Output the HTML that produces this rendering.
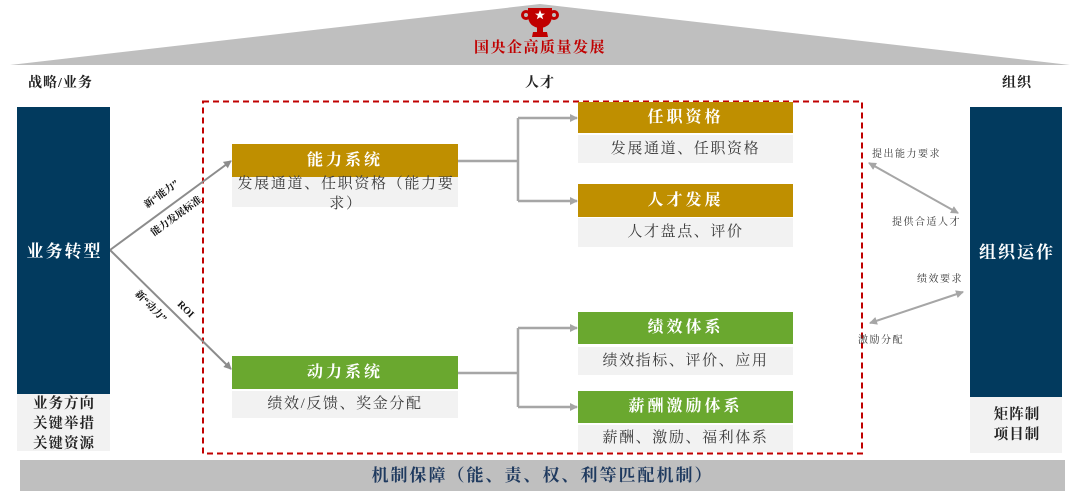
<!DOCTYPE html>
<html><head><meta charset="utf-8">
<style>
html,body{margin:0;padding:0;background:#fff;}
body{width:1080px;height:501px;position:relative;overflow:hidden;font-family:"Liberation Serif","Noto Serif CJK SC",serif;}
.abs{position:absolute;}
.navy{background:#023a5e;}
.gold{background:#bf8f00;color:#fff;font-weight:bold;font-size:16px;letter-spacing:3px;text-align:center;}
.green{background:#6aa82f;color:#fff;font-weight:bold;font-size:16px;letter-spacing:3px;text-align:center;}
.desc{background:#f2f2f2;color:#3a3a3a;font-size:15px;letter-spacing:1.6px;text-align:center;}
.lbl{font-weight:bold;color:#222;font-size:14px;letter-spacing:1px;}
.sm{font-size:10px;color:#333;letter-spacing:1.5px;white-space:nowrap;}
.rot{font-size:10px;font-weight:bold;color:#111;white-space:nowrap;transform-origin:center center;}
</style></head>
<body>
<svg class="abs" style="left:0;top:0" width="1080" height="501" viewBox="0 0 1080 501">
  <defs>
    <marker id="ag" markerWidth="8" markerHeight="8" refX="7" refY="4" orient="auto" markerUnits="userSpaceOnUse">
      <path d="M0,0 L8,4 L0,8 z" fill="#8c8c8c"/>
    </marker>
    <marker id="al" markerWidth="8" markerHeight="8" refX="7" refY="4" orient="auto" markerUnits="userSpaceOnUse">
      <path d="M0,0 L8,4 L0,8 z" fill="#a6a6a6"/>
    </marker>
    <marker id="ar" markerWidth="8" markerHeight="8" refX="7" refY="4" orient="auto-start-reverse" markerUnits="userSpaceOnUse">
      <path d="M0,0 L8,4 L0,8 z" fill="#a6a6a6"/>
    </marker>
  </defs>
  <polygon points="10,65 540,4 1070,65" fill="#bfbfbf"/>
  <g fill="#c00000">
    <circle cx="526" cy="15" r="3.5" fill="none" stroke="#c00000" stroke-width="3"/>
    <circle cx="554" cy="15" r="3.5" fill="none" stroke="#c00000" stroke-width="3"/>
    <path d="M528,8 L552,8 L552,15 Q552,27 540,28 Q528,27 528,15 Z"/>
    <rect x="537" y="27" width="6" height="5"/>
    <path d="M533,32 L547,32 L548,37 L532,37 Z"/>
    <polygon fill="#fff" points="540,10 541.4,13.6 545,13.6 542.1,15.8 543.2,19.3 540,17.2 536.8,19.3 537.9,15.8 535,13.6 538.6,13.6"/>
  </g>
  <rect x="203" y="101.5" width="659" height="352" fill="none" stroke="#c00000" stroke-width="2" stroke-dasharray="6,4"/>
  <rect x="20" y="460" width="1045" height="31" fill="#bfbfbf"/>
  <line x1="110" y1="250" x2="231" y2="161" stroke="#8c8c8c" stroke-width="2" marker-end="url(#ag)"/>
  <line x1="110" y1="250" x2="231" y2="369" stroke="#8c8c8c" stroke-width="2" marker-end="url(#ag)"/>
  <g stroke="#a6a6a6" stroke-width="2.5" fill="none">
    <line x1="458" y1="161" x2="518" y2="161"/>
    <line x1="518" y1="118" x2="518" y2="201"/>
    <line x1="518" y1="118" x2="577" y2="118" marker-end="url(#al)"/>
    <line x1="518" y1="201" x2="577" y2="201" marker-end="url(#al)"/>
    <line x1="458" y1="373" x2="518" y2="373"/>
    <line x1="518" y1="328" x2="518" y2="407"/>
    <line x1="518" y1="328" x2="577" y2="328" marker-end="url(#al)"/>
    <line x1="518" y1="407" x2="577" y2="407" marker-end="url(#al)"/>
  </g>
  <line x1="869" y1="163" x2="958" y2="213" stroke="#a6a6a6" stroke-width="2" marker-start="url(#ar)" marker-end="url(#ar)"/>
  <line x1="963" y1="292" x2="870" y2="323" stroke="#a6a6a6" stroke-width="2" marker-start="url(#ar)" marker-end="url(#ar)"/>
</svg>

<div class="abs" style="left:440px;top:38px;width:200px;text-align:center;color:#c00000;font-weight:bold;font-size:15px;letter-spacing:1.5px;line-height:20px;">国央企高质量发展</div>

<div class="abs lbl" style="left:28px;top:75px;line-height:18px;">战略/业务</div>
<div class="abs lbl" style="left:500px;top:75px;width:80px;text-align:center;line-height:18px;">人才</div>
<div class="abs lbl" style="left:1002px;top:75px;line-height:18px;">组织</div>

<div class="abs navy" style="left:17px;top:107px;width:93px;height:287px;"></div>
<div class="abs" style="left:17px;top:242px;width:95px;text-align:center;color:#fff;font-weight:bold;font-size:17px;letter-spacing:2px;line-height:20px;">业务转型</div>
<div class="abs" style="left:17px;top:394px;width:93px;height:57px;background:#f2f2f2;"></div>
<div class="abs lbl" style="left:17px;top:394px;width:94px;text-align:center;font-size:14.5px;line-height:20px;">业务方向<br>关键举措<br>关键资源</div>

<div class="abs navy" style="left:970px;top:107px;width:92px;height:290px;"></div>
<div class="abs" style="left:970px;top:243px;width:94px;text-align:center;color:#fff;font-weight:bold;font-size:17px;letter-spacing:2px;line-height:20px;">组织运作</div>
<div class="abs" style="left:970px;top:397px;width:92px;height:56px;background:#f2f2f2;"></div>
<div class="abs lbl" style="left:970px;top:405px;width:94px;text-align:center;font-size:14.5px;line-height:20px;">矩阵制<br>项目制</div>

<div class="abs gold" style="left:232px;top:144px;width:226px;height:33px;line-height:33px;">能力系统</div>
<div class="abs desc" style="left:232px;top:177px;width:226px;height:30px;"></div>
<div class="abs desc" style="left:230px;top:174px;width:232px;line-height:20px;background:transparent;letter-spacing:1.7px;">发展通道、任职资格（能力要<br>求）</div>

<div class="abs green" style="left:232px;top:356px;width:226px;height:33px;line-height:33px;">动力系统</div>
<div class="abs desc" style="left:232px;top:391px;width:226px;height:27px;line-height:27px;">绩效/反馈、奖金分配</div>

<div class="abs gold" style="left:578px;top:102px;width:215px;height:31px;line-height:31px;">任职资格</div>
<div class="abs desc" style="left:578px;top:135px;width:215px;height:28px;line-height:28px;">发展通道、任职资格</div>
<div class="abs gold" style="left:578px;top:184px;width:215px;height:33px;line-height:33px;">人才发展</div>
<div class="abs desc" style="left:578px;top:218px;width:215px;height:29px;line-height:29px;">人才盘点、评价</div>

<div class="abs green" style="left:578px;top:312px;width:215px;height:32px;line-height:32px;">绩效体系</div>
<div class="abs desc" style="left:578px;top:347px;width:215px;height:28px;line-height:28px;">绩效指标、评价、应用</div>
<div class="abs green" style="left:578px;top:391px;width:215px;height:32px;line-height:32px;">薪酬激励体系</div>
<div class="abs desc" style="left:578px;top:425px;width:215px;height:27px;line-height:27px;">薪酬、激励、福利体系</div>

<div class="abs rot" style="left:122px;top:189px;width:80px;text-align:center;line-height:12px;transform:rotate(-36deg);">新“能力”</div>
<div class="abs rot" style="left:137px;top:211px;width:80px;text-align:center;line-height:12px;transform:rotate(-36deg);">能力发展标准</div>
<div class="abs rot" style="left:110px;top:301px;width:80px;text-align:center;line-height:12px;transform:rotate(45deg);">新“动力”</div>
<div class="abs rot" style="left:165px;top:304px;width:40px;text-align:center;line-height:12px;transform:rotate(45deg);font-family:'Liberation Serif',serif;">ROI</div>

<div class="abs sm" style="left:872px;top:148px;line-height:14px;">提出能力要求</div>
<div class="abs sm" style="left:892px;top:216px;line-height:14px;">提供合适人才</div>
<div class="abs sm" style="left:917px;top:273px;line-height:14px;">绩效要求</div>
<div class="abs sm" style="left:858px;top:334px;line-height:14px;">激励分配</div>

<div class="abs" style="left:20px;top:460px;width:1045px;height:31px;line-height:31px;text-align:center;color:#1f3a5f;font-weight:bold;font-size:17px;letter-spacing:2px;">机制保障（能、责、权、利等匹配机制）</div>
</body></html>
